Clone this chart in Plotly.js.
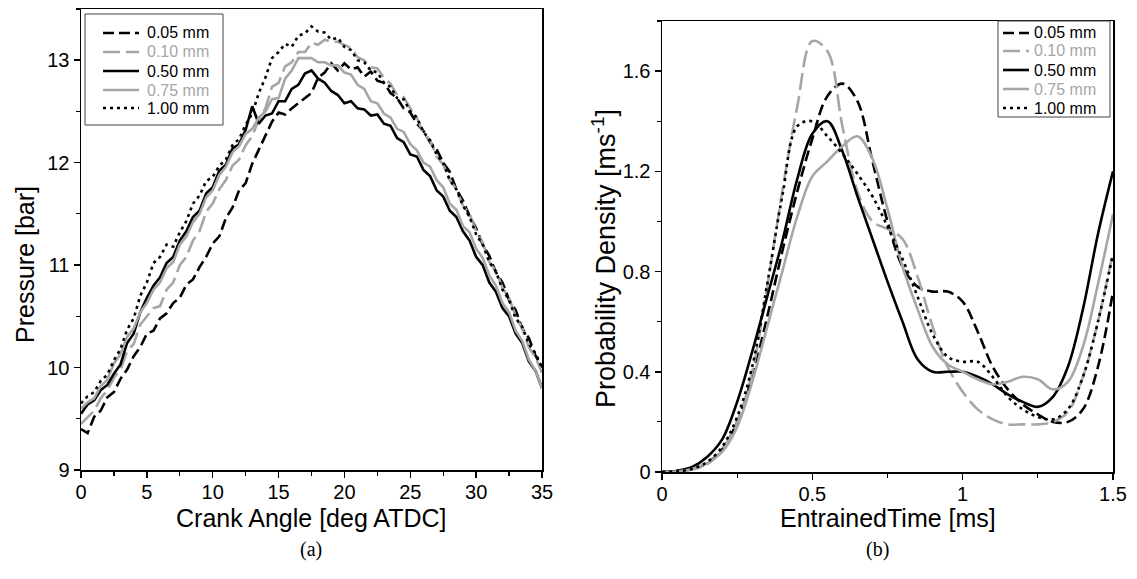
<!DOCTYPE html>
<html>
<head>
<meta charset="utf-8">
<script src="https://cdn.plot.ly/plotly-3.0.1.min.js"></script>
<style>
  html, body { margin: 0; padding: 0; background: #ffffff; }
  #chart { width: 1137px; height: 579px; }
</style>
</head>
<body>
<div id="chart"></div>
<script>
// ---------- Data: panel (a) ----------
const seriesNames = ['0.05 mm', '0.10 mm', '0.50 mm', '0.75 mm', '1.00 mm'];

const crankAngle = [0, 0.5, 1, 1.5, 2, 2.5, 3, 3.5, 4, 4.5, 5, 5.5, 6, 6.5, 7, 7.5, 8, 8.5, 9, 9.5,
  10, 10.5, 11, 11.5, 12, 12.5, 13, 13.5, 14, 14.5, 15, 15.5, 16, 16.5, 17, 17.5, 18, 18.5, 19, 19.5,
  20, 20.5, 21, 21.5, 22, 22.5, 23, 23.5, 24, 24.5, 25, 25.5, 26, 26.5, 27, 27.5, 28, 28.5, 29, 29.5,
  30, 30.5, 31, 31.5, 32, 32.5, 33, 33.5, 34, 34.5, 35];

const pressure005 = [9.40, 9.36, 9.52, 9.58, 9.71, 9.76, 9.89, 9.98, 10.11, 10.20, 10.33, 10.36, 10.48, 10.53, 10.63, 10.68, 10.81, 10.86, 10.98, 11.08,
  11.21, 11.28, 11.46, 11.56, 11.73, 11.80, 11.99, 12.13, 12.26, 12.40, 12.49, 12.47, 12.53, 12.58, 12.63, 12.68, 12.83, 12.88, 12.97, 12.90,
  12.97, 12.91, 12.93, 12.84, 12.89, 12.80, 12.78, 12.68, 12.63, 12.53, 12.49, 12.38, 12.31, 12.20, 12.13, 12.00, 11.91, 11.74, 11.63, 11.48,
  11.36, 11.20, 11.09, 10.93, 10.83, 10.66, 10.56, 10.38, 10.29, 10.12, 10.00];

const pressure010 = [9.45, 9.52, 9.58, 9.70, 9.78, 9.90, 9.98, 10.16, 10.23, 10.42, 10.50, 10.58, 10.60, 10.76, 10.83, 11.00, 11.08, 11.24, 11.33, 11.52,
  11.60, 11.74, 11.83, 11.97, 12.03, 12.17, 12.26, 12.42, 12.53, 12.74, 12.78, 12.94, 12.98, 13.08, 13.08, 13.17, 13.15, 13.20, 13.18, 13.18,
  13.15, 13.12, 13.03, 13.00, 12.93, 12.92, 12.83, 12.77, 12.66, 12.64, 12.53, 12.44, 12.28, 12.22, 12.06, 11.98, 11.83, 11.74, 11.58, 11.50,
  11.33, 11.22, 11.03, 10.94, 10.78, 10.68, 10.50, 10.38, 10.20, 10.10, 9.95];

const pressure050 = [9.55, 9.64, 9.68, 9.78, 9.83, 9.94, 10.03, 10.24, 10.33, 10.54, 10.68, 10.80, 10.88, 11.02, 11.08, 11.24, 11.33, 11.47, 11.53, 11.70,
  11.76, 11.92, 11.98, 12.14, 12.18, 12.32, 12.55, 12.38, 12.46, 12.48, 12.60, 12.60, 12.72, 12.76, 12.87, 12.90, 12.82, 12.78, 12.70, 12.66,
  12.58, 12.60, 12.53, 12.52, 12.46, 12.47, 12.38, 12.36, 12.24, 12.20, 12.08, 12.06, 11.93, 11.87, 11.73, 11.67, 11.53, 11.47, 11.33, 11.24,
  11.08, 11.00, 10.83, 10.74, 10.58, 10.50, 10.33, 10.24, 10.06, 9.97, 9.80];

const pressure075 = [9.60, 9.66, 9.70, 9.82, 9.88, 10.04, 10.13, 10.30, 10.38, 10.54, 10.63, 10.76, 10.83, 10.97, 11.03, 11.20, 11.28, 11.42, 11.50, 11.66,
  11.73, 11.88, 11.96, 12.10, 12.16, 12.28, 12.33, 12.44, 12.50, 12.62, 12.63, 12.82, 12.90, 13.02, 13.02, 13.02, 12.98, 12.98, 12.95, 12.95,
  12.88, 12.86, 12.76, 12.72, 12.60, 12.58, 12.48, 12.44, 12.33, 12.30, 12.18, 12.12, 12.00, 11.96, 11.83, 11.76, 11.60, 11.54, 11.38, 11.32,
  11.16, 11.07, 10.90, 10.80, 10.63, 10.54, 10.36, 10.26, 10.08, 9.97, 9.80];

const pressure100 = [9.65, 9.72, 9.76, 9.87, 9.93, 10.07, 10.18, 10.37, 10.48, 10.70, 10.83, 11.02, 11.08, 11.20, 11.18, 11.32, 11.43, 11.60, 11.68, 11.82,
  11.86, 11.97, 12.03, 12.17, 12.23, 12.37, 12.48, 12.68, 12.83, 13.02, 13.08, 13.16, 13.13, 13.24, 13.26, 13.33, 13.28, 13.27, 13.20, 13.22,
  13.13, 13.10, 13.00, 12.98, 12.90, 12.88, 12.78, 12.74, 12.63, 12.62, 12.50, 12.44, 12.30, 12.22, 12.08, 12.00, 11.83, 11.74, 11.58, 11.47,
  11.30, 11.20, 11.03, 10.94, 10.76, 10.66, 10.48, 10.40, 10.23, 10.14, 10.00];

// ---------- Data: panel (b) ----------
const entrainedTime = [0, 0.05, 0.1, 0.15, 0.2, 0.25, 0.3, 0.35, 0.4, 0.45, 0.5, 0.55, 0.6, 0.65, 0.7, 0.75,
  0.8, 0.85, 0.9, 0.95, 1.0, 1.05, 1.1, 1.15, 1.2, 1.25, 1.3, 1.35, 1.4, 1.45, 1.5];

const density005 = [0, 0.003, 0.012, 0.035, 0.09, 0.2, 0.38, 0.62, 0.88, 1.12, 1.33, 1.5, 1.55, 1.48, 1.24, 1.0,
  0.82, 0.74, 0.72, 0.72, 0.68, 0.56, 0.42, 0.33, 0.27, 0.23, 0.2, 0.2, 0.25, 0.42, 0.72];
const density010 = [0, 0.003, 0.01, 0.03, 0.09, 0.2, 0.4, 0.74, 1.12, 1.46, 1.72, 1.68, 1.38, 1.12, 1.0, 0.97,
  0.93, 0.78, 0.58, 0.42, 0.32, 0.25, 0.21, 0.19, 0.19, 0.19, 0.2, 0.24, 0.38, 0.6, 0.88];
const density050 = [0, 0.005, 0.02, 0.06, 0.13, 0.28, 0.48, 0.7, 0.92, 1.17, 1.35, 1.4, 1.28, 1.1, 0.93, 0.76,
  0.6, 0.45, 0.4, 0.4, 0.4, 0.38, 0.35, 0.31, 0.28, 0.26, 0.3, 0.42, 0.65, 0.95, 1.2];
const density075 = [0, 0.003, 0.012, 0.035, 0.08, 0.18, 0.36, 0.58, 0.8, 1.02, 1.18, 1.24, 1.3, 1.34, 1.25, 1.05,
  0.82, 0.65, 0.5, 0.43, 0.4, 0.37, 0.35, 0.36, 0.38, 0.37, 0.33, 0.36, 0.5, 0.75, 1.03];
const density100 = [0, 0.003, 0.012, 0.04, 0.1, 0.22, 0.42, 0.75, 1.1, 1.38, 1.4, 1.34, 1.27, 1.19, 1.1, 0.98,
  0.85, 0.7, 0.55, 0.46, 0.44, 0.44, 0.38, 0.3, 0.25, 0.22, 0.21, 0.25, 0.38, 0.6, 0.87];

// ---------- Styles ----------
const GRAY = '#a6a6a6';
const styles = [
  { color: '#000000', dash: '11px,5px' },
  { color: GRAY, dash: '17px,6px' },
  { color: '#000000', dash: 'solid' },
  { color: GRAY, dash: 'solid' },
  { color: '#000000', dash: '3px,4px' }
];
const FONT = 'Liberation Sans';

const pressures = [pressure005, pressure010, pressure050, pressure075, pressure100];
const densities = [density005, density010, density050, density075, density100];

const traces = [];
pressures.forEach((p, i) => {
  traces.push({
    x: crankAngle, y: p, type: 'scatter', mode: 'lines', name: seriesNames[i],
    line: { color: styles[i].color, dash: styles[i].dash, width: 2.6 },
    xaxis: 'x', yaxis: 'y', showlegend: false
  });
});
densities.forEach((d, i) => {
  traces.push({
    x: entrainedTime, y: d, type: 'scatter', mode: 'lines', name: seriesNames[i],
    line: { color: styles[i].color, dash: styles[i].dash, width: 2.6, shape: 'spline', smoothing: 1 },
    xaxis: 'x2', yaxis: 'y2', showlegend: false
  });
});

const W = 1137, H = 579;
const px = v => v / W;
const py = v => 1 - v / H;

function axisBase(extra) {
  return Object.assign({
    showgrid: false, zeroline: false, showline: true, mirror: true,
    linecolor: '#000', linewidth: 1.5,
    ticks: 'outside', ticklen: 6, tickwidth: 1.5, tickcolor: '#000',
    tickfont: { family: FONT, size: 20, color: '#000' },
    fixedrange: true
  }, extra);
}

// ---------- Hand-drawn legends (box, line samples, labels) ----------
const shapes = [];
const annotations = [];
function addLegend(box, rowY, lineX0, lineX1, textX) {
  shapes.push({ type: 'rect', xref: 'paper', yref: 'paper',
    x0: px(box[0]), x1: px(box[1]), y0: py(box[3]), y1: py(box[2]),
    line: { color: '#444', width: 1 }, fillcolor: '#ffffff', layer: 'above' });
  seriesNames.forEach((nm, i) => {
    shapes.push({ type: 'line', xref: 'paper', yref: 'paper',
      x0: px(lineX0), x1: px(lineX1), y0: py(rowY[i]), y1: py(rowY[i]),
      line: { color: styles[i].color, dash: styles[i].dash, width: 2.6 }, layer: 'above' });
    annotations.push({ text: nm, xref: 'paper', yref: 'paper', x: px(textX), y: py(rowY[i]),
      xanchor: 'left', yanchor: 'middle', showarrow: false,
      font: { family: FONT, size: 16, color: styles[i].color } });
  });
}
addLegend([85, 223, 14, 125], [33, 52, 71, 90, 108], 103, 139, 145);
addLegend([998, 1110, 21, 117], [33, 51, 70, 89, 108], 1003, 1029, 1032);

annotations.push(
  { text: 'Crank Angle [deg ATDC]', xref: 'paper', yref: 'paper', x: px(311.5), y: py(518),
    xanchor: 'center', yanchor: 'middle', showarrow: false, font: { family: FONT, size: 25, color: '#000' } },
  { text: 'EntrainedTime [ms]', xref: 'paper', yref: 'paper', x: px(887.5), y: py(518),
    xanchor: 'center', yanchor: 'middle', showarrow: false, font: { family: FONT, size: 25, color: '#000' } },
  { text: 'Pressure [bar]', xref: 'paper', yref: 'paper', x: px(25), y: py(265), textangle: -90,
    xanchor: 'center', yanchor: 'middle', showarrow: false, font: { family: FONT, size: 25, color: '#000' } },
  { text: 'Probability Density [ms<sup>-1</sup>]', xref: 'paper', yref: 'paper', x: px(604), y: py(259), textangle: -90,
    xanchor: 'center', yanchor: 'middle', showarrow: false, font: { family: FONT, size: 27, color: '#000' } },
  { text: '(a)', xref: 'paper', yref: 'paper', x: px(311), y: py(549),
    xanchor: 'center', yanchor: 'middle', showarrow: false, font: { family: 'Liberation Serif', size: 20, color: '#000' } },
  { text: '(b)', xref: 'paper', yref: 'paper', x: px(877), y: py(549),
    xanchor: 'center', yanchor: 'middle', showarrow: false, font: { family: 'Liberation Serif', size: 20, color: '#000' } }
);

const minor = dt => ({ dtick: dt, ticklen: 4, tickwidth: 1.2, tickcolor: '#000', ticks: 'outside' });

const layout = {
  width: W, height: H,
  margin: { l: 0, r: 0, t: 0, b: 0 },
  paper_bgcolor: '#ffffff', plot_bgcolor: '#ffffff',
  showlegend: false,
  xaxis: axisBase({ domain: [px(81), px(542)], range: [0, 35], tick0: 0, dtick: 5, anchor: 'y', minor: minor(2.5), ticklabelstandoff: -3 }),
  yaxis: axisBase({ domain: [py(470), py(9)], range: [9, 13.5], tick0: 9, dtick: 1, anchor: 'x', minor: minor(0.5) }),
  xaxis2: axisBase({ domain: [px(662), px(1113)], range: [0, 1.5], tick0: 0, dtick: 0.5, anchor: 'y2', minor: minor(0.25), ticklabelstandoff: -3 }),
  yaxis2: axisBase({ domain: [py(472), py(21)], range: [0, 1.8], tick0: 0, dtick: 0.4, anchor: 'x2', minor: minor(0.2) }),
  shapes: shapes,
  annotations: annotations
};

Plotly.newPlot('chart', traces, layout, { displayModeBar: false, staticPlot: true });
</script>
</body>
</html>
